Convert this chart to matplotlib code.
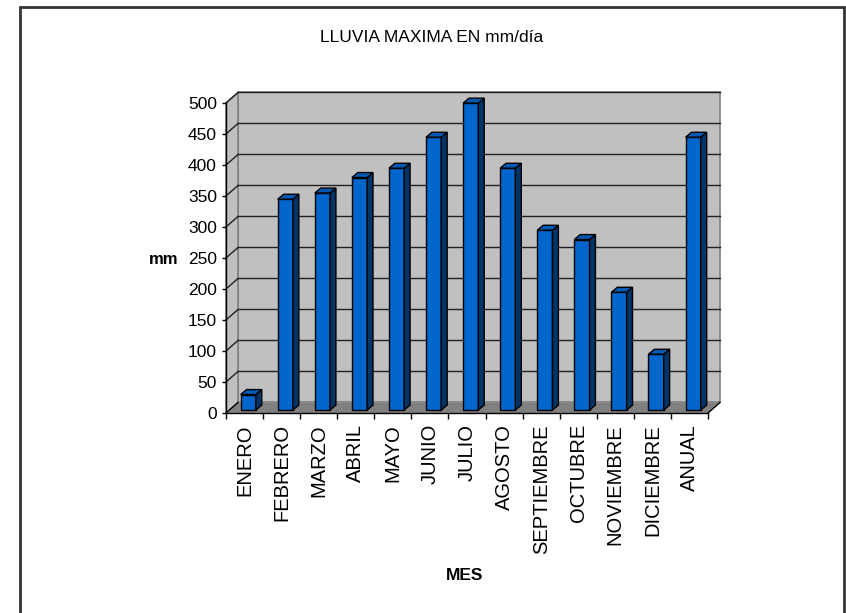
import matplotlib
matplotlib.use("Agg")
import matplotlib.pyplot as plt
from matplotlib.patches import Polygon, Rectangle

plt.rcParams['font.family'] = ['Liberation Sans', 'DejaVu Sans']

# data
meses = ['ENERO', 'FEBRERO', 'MARZO', 'ABRIL', 'MAYO', 'JUNIO', 'JULIO',
         'AGOSTO', 'SEPTIEMBRE', 'OCTUBRE', 'NOVIEMBRE', 'DICIEMBRE', 'ANUAL']
lluvia = [25, 340, 350, 375, 390, 440, 495, 390, 290, 275, 190, 90, 440]
yticks = list(range(0, 501, 50))

# fake 3d look (data units)
DX, DY = 0.324, 17      # depth of the box
BX, BY = 0.10, 4.8      # bar front offset from front plane
SX, SY = 0.16, 8        # bar depth
W = 0.41                # bar width

front = '#0066CC'
side = '#003366'
top = '#0059B2'
wall = '#C0C0C0'
floor = '#808080'

fig = plt.figure(figsize=(8.46, 6.13), dpi=100)
ax = fig.add_axes([226 / 846, 200 / 613, 482 / 846, 310 / 613])
n = len(meses)
x0, x1 = -0.5, n - 0.5
ax.set_xlim(x0, x1)
ax.set_ylim(0, 500)
ax.patch.set_visible(False)

# walls
ax.add_patch(Rectangle((x0 + DX, DY), x1 - x0, 500, facecolor=wall,
                       edgecolor='#808080', lw=1.2, clip_on=False, zorder=0))
ax.add_patch(Polygon([(x0, 0), (x0 + DX, DY), (x0 + DX, 500 + DY), (x0, 500)],
                     facecolor=wall, edgecolor='#808080', lw=1.2,
                     clip_on=False, zorder=0))
for v in yticks[1:]:
    ax.plot([x0 + DX, x1 + DX], [v + DY, v + DY], color='#202020', lw=1,
            clip_on=False, zorder=1)
    ax.plot([x0, x0 + DX], [v, v + DY], color='#202020', lw=1,
            clip_on=False, zorder=1)
ax.add_patch(Polygon([(x0, 0), (x1, 0), (x1 + DX, DY), (x0 + DX, DY)],
                     facecolor=floor, edgecolor='none', clip_on=False, zorder=1))
ax.plot([x1, x1 + DX], [0, DY], color='black', lw=1, clip_on=False, zorder=2)
ax.plot([x0, x0 + DX], [0, DY], color='black', lw=1, clip_on=False, zorder=2)

# bars
xs = list(range(n))
ax.bar([i + BX for i in xs], lluvia, width=W, bottom=BY, color=front,
       edgecolor='black', lw=1, zorder=3, clip_on=False)
for i, v in zip(xs, lluvia):
    a = i + BX - W / 2
    b = i + BX + W / 2
    ax.add_patch(Polygon([(b, BY), (b + SX, BY + SY), (b + SX, v + BY + SY), (b, v + BY)],
                         facecolor=side, edgecolor='black', lw=1,
                         clip_on=False, zorder=3))
    ax.add_patch(Polygon([(a, v + BY), (b, v + BY), (b + SX, v + BY + SY), (a + SX, v + BY + SY)],
                         facecolor=top, edgecolor='black', lw=1,
                         clip_on=False, zorder=3))

# axes
for s in ['top', 'right']:
    ax.spines[s].set_visible(False)
ax.spines['left'].set_linewidth(1)
ax.spines['bottom'].set_linewidth(1)
ax.spines['left'].set_zorder(4)
ax.spines['bottom'].set_zorder(4)
ax.set_yticks(yticks)
ax.tick_params(axis='y', direction='out', length=3, width=1, pad=3.5,
               labelsize=12.5)
ax.set_xticks(xs)
ax.set_xticklabels(meses, rotation=90, fontsize=14.5, va='top')
ax.set_xticks([i - 0.5 for i in range(n + 1)], minor=True)
ax.tick_params(axis='x', which='major', length=0, pad=8)
ax.tick_params(axis='x', which='minor', direction='out', length=4, width=1)

fig.text(432 / 846, 1 - 37 / 613, 'LLUVIA MAXIMA EN mm/día', fontsize=12.5,
         ha='center', va='center')
fig.text(163.5 / 846, 1 - 259 / 613, 'mm', fontsize=12, fontweight='bold',
         ha='center', va='center')
fig.text(465 / 846, 1 - 575 / 613, 'MES', fontsize=12.5, fontweight='bold',
         ha='center', va='center')

fig.patches.append(Rectangle((19.5 / 846, -0.02), (844 - 19.5) / 846, 0.02 + 606.5 / 613,
                             transform=fig.transFigure, fill=False,
                             edgecolor='#333333', lw=2))

fig.savefig('out.png', dpi=100)
